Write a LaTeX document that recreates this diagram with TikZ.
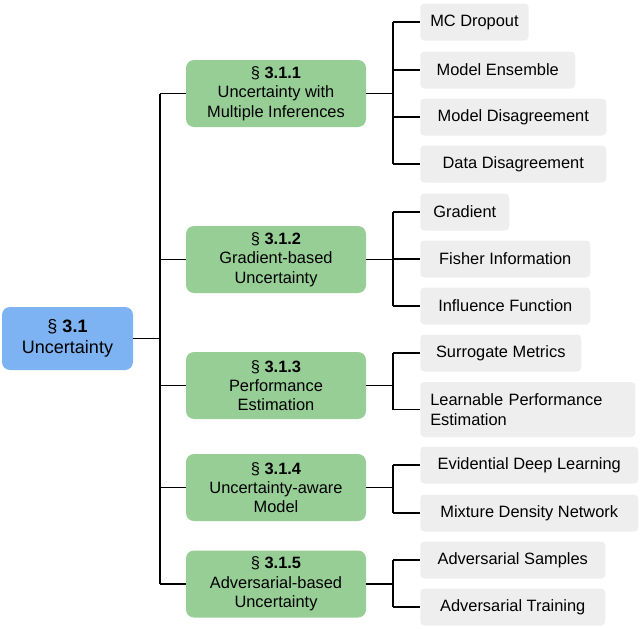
\documentclass[tikz,border=0pt]{standalone}
\usepackage{fontspec}
\setmainfont{Liberation Sans}
\begin{document}
\begin{tikzpicture}[x=0.75pt,y=-0.75pt,
  every node/.style={font=\fontsize{12.3}{14.5}\selectfont},
  rootbox/.style={fill=rootc,rounded corners=6pt,minimum width=131*0.75pt,minimum height=63*0.75pt,align=center,inner sep=0pt,font=\fontsize{13.5}{16}\selectfont},
  midbox/.style={fill=midc,rounded corners=6pt,minimum width=180*0.75pt,minimum height=67*0.75pt,align=center,inner sep=0pt},
  leafbox/.style={fill=leafc,rounded corners=3pt,anchor=west,minimum height=37*0.75pt,inner ysep=0pt,inner xsep=7.5pt,align=left},
  conn/.style={draw=black,line width=1.2pt}]
\definecolor{rootc}{HTML}{7DB3F2}
\definecolor{midc}{HTML}{96CE96}
\definecolor{leafc}{HTML}{EEEEEE}
\useasboundingbox (0,0) rectangle (640,629);
\node[rootbox] (r) at (67.5,338.5) {§ \textbf{3.1}\\Uncertainty};
\node[midbox] (m1) at (276,93.5) {§ \textbf{3.1.1}\\Uncertainty with\\Multiple Inferences};
\node[midbox] (m2) at (276,259.5) {§ \textbf{3.1.2}\\Gradient-based\\Uncertainty};
\node[midbox] (m3) at (276,385.5) {§ \textbf{3.1.3}\\Performance\\Estimation};
\node[midbox] (m4) at (276,487.5) {§ \textbf{3.1.4}\\Uncertainty-aware\\Model};
\node[midbox] (m5) at (276,584) {§ \textbf{3.1.5}\\Adversarial-based\\Uncertainty};
\node[leafbox,minimum width=107*0.75pt] (l1) at (420,22) {MC Dropout};
\node[leafbox,minimum width=155*0.75pt] (l2) at (420,70) {Model Ensemble};
\node[leafbox,minimum width=186*0.75pt] (l3) at (420,117) {Model Disagreement};
\node[leafbox,minimum width=186*0.75pt] (l4) at (420,164) {Data Disagreement};
\node[leafbox,minimum width=89*0.75pt] (l5) at (420,212) {Gradient};
\node[leafbox,minimum width=170*0.75pt] (l6) at (420,259) {Fisher Information};
\node[leafbox,minimum width=170*0.75pt] (l7) at (420,306) {Influence Function};
\node[leafbox,minimum width=161*0.75pt] (l8) at (420,353) {Surrogate Metrics};
\node[leafbox,minimum height=55*0.75pt,text width=195*0.75pt] (l9) at (420,409.5) {Learnable Performance\\Estimation};
\node[leafbox,minimum width=218*0.75pt] (l10) at (420,465) {Evidential Deep Learning};
\node[leafbox,minimum width=218*0.75pt] (l11) at (420,513) {Mixture Density Network};
\node[leafbox,minimum width=185*0.75pt] (l12) at (420,560) {Adversarial Samples};
\node[leafbox,minimum width=185*0.75pt] (l13) at (420,607) {Adversarial Training};
\coordinate (t) at (160,338.5);
\coordinate (b) at (393,0);
\draw[conn] (r.east) -- (t);
\draw[conn] (t|-m1.west) -- (t|-m5.west);
\foreach \m in {m1,m2,m3,m4,m5} \draw[conn] (t|-\m.west) -- (\m.west);
\foreach \m/\a/\z/\ls in {m1/l1/l4/{l1,l2,l3,l4},m2/l5/l7/{l5,l6,l7},m3/l8/l9/{l8,l9},m4/l10/l11/{l10,l11},m5/l12/l13/{l12,l13}}{
  \draw[conn] (\m.east) -- (b|-\m.east);
  \draw[conn] (b|-\a.west) -- (b|-\z.west);
  \foreach \l in \ls \draw[conn] (b|-\l.west) -- (\l.west);
}
\end{tikzpicture}
\end{document}
